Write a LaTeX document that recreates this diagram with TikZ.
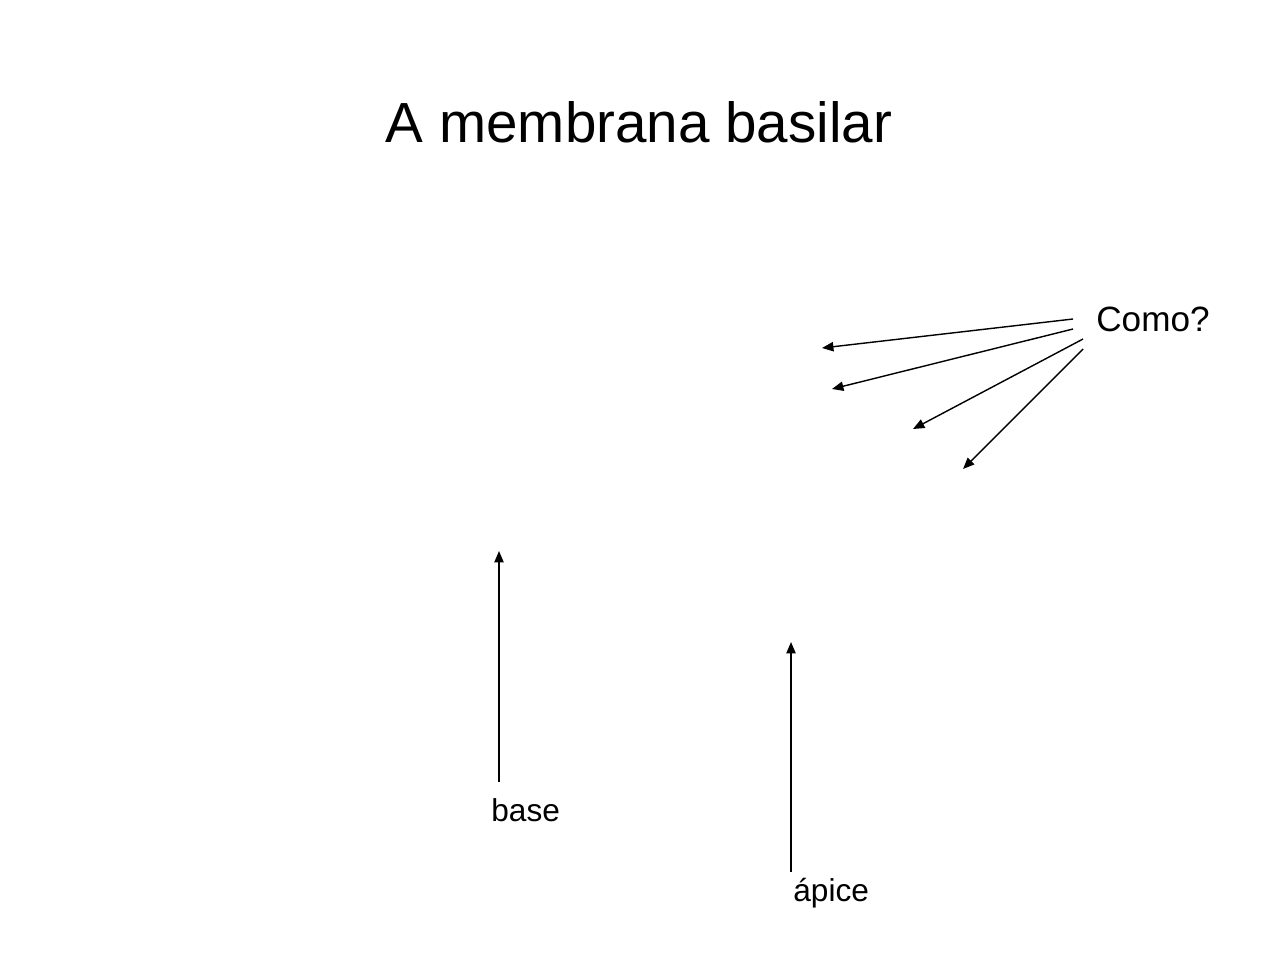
\documentclass[tikz,border=0pt]{standalone}
\usepackage{fontspec}
\setmainfont{Liberation Sans}
\usetikzlibrary{arrows.meta}
\begin{document}
\begin{tikzpicture}[x=0.02cm,y=-0.02cm,
  lbl/.style={inner sep=0pt,anchor=base west},
  arr/.style={line width=0.8pt,-{Triangle[length=6.5pt,width=5.3pt]}}]
\useasboundingbox (0,0) rectangle (1280,960);
\node[inner sep=0pt,anchor=base] (title) at (639,142) {\fontsize{32.2pt}{38pt}\selectfont A membrana basilar};
\node[lbl] (como) at (1096,331) {\fontsize{20pt}{24pt}\selectfont Como?};
\node[lbl] (base) at (491,821) {\fontsize{18pt}{22pt}\selectfont base};
\node[lbl] (apice) at (793,901) {\fontsize{18pt}{22pt}\selectfont ápice};
\coordinate (s1) at (1073,319); \coordinate (t1) at (822,348);
\coordinate (s2) at (1073,329); \coordinate (t2) at (832,389);
\coordinate (s3) at (1083,339); \coordinate (t3) at (913,429);
\coordinate (s4) at (1083,349); \coordinate (t4) at (963,469);
\coordinate (bs) at (499,782); \coordinate (bt) at (499,551);
\coordinate (as) at (791,872); \coordinate (at) at (791,642);
\draw[arr] (s1) -- (t1);
\draw[arr] (s2) -- (t2);
\draw[arr] (s3) -- (t3);
\draw[arr] (s4) -- (t4);
\draw[arr] (bs) -- (bt);
\draw[arr] (as) -- (at);
\end{tikzpicture}
\end{document}
